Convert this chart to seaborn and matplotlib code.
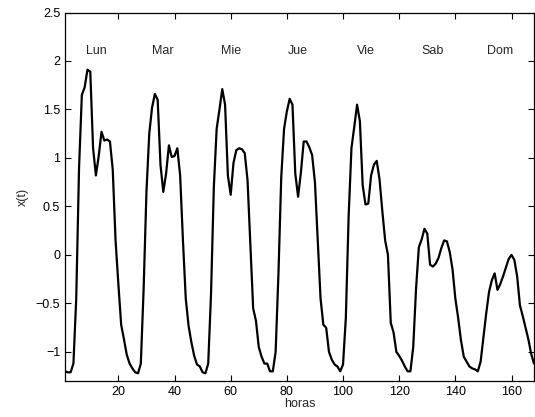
import numpy as np
import pandas as pd
import seaborn as sns
import matplotlib
matplotlib.use("Agg")
import matplotlib.pyplot as plt

# hourly values, one list per day (hours 1..168)
lun = [-1.20, -1.21, -1.21, -1.12, -0.45, 0.90, 1.65, 1.73, 1.91, 1.89, 1.10, 0.82,
       1.02, 1.27, 1.18, 1.19, 1.17, 0.88, 0.15, -0.30, -0.72, -0.87, -1.03, -1.12]
mar = [-1.17, -1.21, -1.22, -1.12, -0.35, 0.65, 1.25, 1.52, 1.66, 1.60, 0.93, 0.65,
       0.84, 1.13, 1.01, 1.02, 1.10, 0.82, 0.15, -0.45, -0.73, -0.90, -1.04, -1.13]
mie = [-1.15, -1.21, -1.22, -1.12, -0.40, 0.70, 1.30, 1.50, 1.71, 1.55, 0.82, 0.62,
       0.95, 1.08, 1.10, 1.09, 1.05, 0.77, 0.10, -0.55, -0.68, -0.95, -1.05, -1.12]
jue = [-1.12, -1.20, -1.20, -1.00, -0.20, 0.80, 1.30, 1.48, 1.61, 1.55, 0.84, 0.60,
       0.85, 1.17, 1.17, 1.11, 1.03, 0.75, 0.15, -0.45, -0.72, -0.75, -1.00, -1.08]
vie = [-1.13, -1.15, -1.20, -1.13, -0.65, 0.40, 1.10, 1.32, 1.55, 1.38, 0.72, 0.52,
       0.53, 0.82, 0.93, 0.97, 0.78, 0.45, 0.15, 0.00, -0.70, -0.80, -1.00, -1.04]
sab = [-1.09, -1.15, -1.20, -1.20, -0.95, -0.35, 0.08, 0.16, 0.27, 0.22, -0.10, -0.12,
       -0.09, -0.03, 0.07, 0.15, 0.14, 0.03, -0.15, -0.45, -0.65, -0.88, -1.05, -1.10]
dom = [-1.15, -1.17, -1.18, -1.20, -1.10, -0.85, -0.60, -0.38, -0.26, -0.19, -0.36, -0.30,
       -0.22, -0.13, -0.04, 0.00, -0.05, -0.22, -0.52, -0.63, -0.75, -0.87, -1.02, -1.12]

day_names = ["Lun", "Mar", "Mie", "Jue", "Vie", "Sab", "Dom"]
label_hours = [12, 36, 60, 84, 108, 132, 156]
label_y = 2.1

values = lun + mar + mie + jue + vie + sab + dom
df = pd.DataFrame({"horas": np.arange(1, len(values) + 1), "x": values})

sns.set_style("ticks")
plt.rcParams["font.family"] = ["Liberation Sans", "DejaVu Sans"]

fig = plt.figure(figsize=(5.35, 4.17), dpi=100)
ax = fig.add_axes([0.1215, 0.0863, 0.8766, 0.8837])

sns.lineplot(data=df, x="horas", y="x", ax=ax, color="black", linewidth=1.6)

for name, h in zip(day_names, label_hours):
    ax.text(h, label_y, name, ha="center", va="center", fontsize=9)

ax.set_xlim(1, 168)
ax.set_ylim(-1.3, 2.5)
ax.set_xticks(np.arange(20, 161, 20))
ax.set_yticks([-1, -0.5, 0, 0.5, 1, 1.5, 2, 2.5])
ax.set_yticklabels(["\u22121", "\u22120.5", "0", "0.5", "1", "1.5", "2", "2.5"])
ax.tick_params(axis="both", which="major", direction="in", labelsize=9,
               length=4.5, width=0.8, colors="black",
               top=True, right=True, bottom=True, left=True)
for s in ax.spines.values():
    s.set_visible(True)
    s.set_linewidth(0.9)
    s.set_color("black")

ax.set_xlabel("horas", fontsize=9, labelpad=0)
ax.set_ylabel("x(t)", fontsize=9, labelpad=5)

fig.savefig("out.png", dpi=100)
plt.close(fig)
